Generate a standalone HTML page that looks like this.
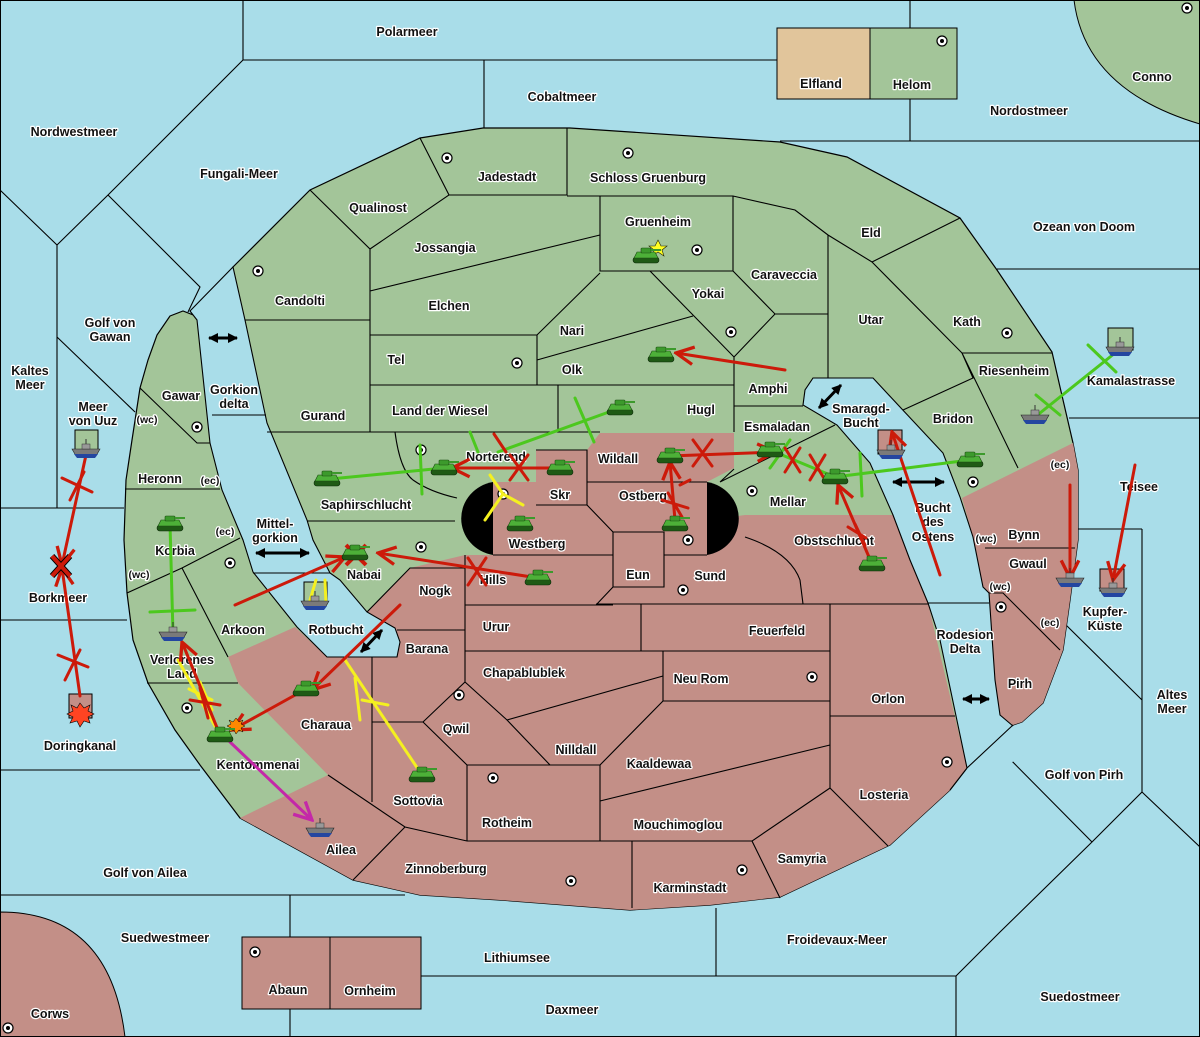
<!DOCTYPE html>
<html><head><meta charset="utf-8"><style>
html,body{margin:0;padding:0;background:#a9dde9;}
svg{display:block}
text{font-family:"Liberation Sans",sans-serif;font-weight:bold;font-size:12.5px;fill:#111;stroke:#fff;stroke-width:2.5px;paint-order:stroke;stroke-linejoin:round;text-anchor:middle}
.b{fill:none;stroke:#000;stroke-width:1.1}
.s{font-size:10.5px}
</style></head><body>
<svg width="1200" height="1037" viewBox="0 0 1200 1037" xmlns="http://www.w3.org/2000/svg">
<defs>
<marker id="ar" viewBox="0 0 20 20" refX="18" refY="10" markerWidth="22" markerHeight="22" markerUnits="userSpaceOnUse" orient="auto"><path d="M2 2 L18 10 L2 18" fill="none" stroke="#cc1a0a" stroke-width="3"/></marker>
<marker id="am" viewBox="0 0 20 20" refX="18" refY="10" markerWidth="22" markerHeight="22" markerUnits="userSpaceOnUse" orient="auto"><path d="M2 2 L18 10 L2 18" fill="none" stroke="#c428a8" stroke-width="3"/></marker>
<marker id="ab" viewBox="0 0 10 10" refX="9" refY="5" markerWidth="10" markerHeight="10" markerUnits="userSpaceOnUse" orient="auto-start-reverse"><path d="M0 0 L10 5 L0 10Z" fill="#000"/></marker>
<g id="tank"><rect x="-13" y="1" width="26" height="6" rx="3" fill="#1f5a15" stroke="#0c2a08" stroke-width=".6"/><path d="M-12 2 L12 2 L9 -4 L-9 -4Z" fill="#4db038" stroke="#1a4a10" stroke-width=".6"/><rect x="-5" y="-8" width="10" height="5" rx="1" fill="#3c9a2c" stroke="#1a4a10" stroke-width=".6"/><rect x="5" y="-7" width="10" height="2" fill="#3c9a2c"/></g>
<g id="ship"><path d="M-14 -2 L14 -2 L10 5 L-10 5Z" fill="#7a7a7a" stroke="#222" stroke-width=".6"/><path d="M-12 3 L12 3 L9 7 L-9 7Z" fill="#2446a0"/><rect x="-4" y="-7" width="8" height="5" fill="#999" stroke="#333" stroke-width=".5"/><line x1="0" y1="-12" x2="0" y2="-7" stroke="#333"/></g>
<g id="sc"><circle r="5" fill="#fff" stroke="#000" stroke-width="1.2"/><circle r="2" fill="#000"/></g>
</defs>

<rect width="1200" height="1037" fill="#a9dde9"/>
<path d="M1074 0 Q1085 90 1200 124 L1200 0Z" fill="#a3c599" stroke="#000"/>
<path d="M0 912 Q110 912 125 1037 L0 1037Z" fill="#c38f87" stroke="#000"/>
<rect x="777" y="28" width="93" height="71" fill="#e1c59b" stroke="#000"/>
<rect x="870" y="28" width="87" height="71" fill="#a3c599" stroke="#000"/>
<rect x="242" y="937" width="88" height="72" fill="#c38f87" stroke="#000"/>
<rect x="330" y="937" width="91" height="72" fill="#c38f87" stroke="#000"/>

<g class="b">
<path d="M243 0 V60 H777 M484 60 V128 M910 0 V28 M910 99 V141 M780 141 H1200"/>
<path d="M243 60 L108 195 L57 245 L0 190 M108 195 L200 287 L188 312 M57 245 V508 M57 337 L135 412 M0 508 H124 M0 620 H127 M0 770 H200 M0 895 H405 M290 895 V937 M290 1009 V1037"/>
<path d="M421 976 H956 V1037 M716 908 V976 M956 976 L1000 932 L1092 842 L1142 792 V529 M1142 792 L1200 847 M993 742 L1092 842 M1065 624 L1142 700"/>
<path d="M997 269 H1200 M1069 418 H1200 M1078 529 H1142"/>
</g>

<path d="M170 316 L183 311 L196 316 L233 267 L310 190 L420 138 L483 128 L570 128 L780 142 L847 157 L960 218 L997 270 L1052 352 L1060 387 L1073 443 L1078 470 L1078 540 L1070 600 L1063 650 L1043 703 L1022 722 L1013 725 L967 768 L950 790 L890 845 L780 897 L710 905 L630 910 L500 900 L420 895 L353 880 L240 818 L200 765 L175 730 L148 683 L133 640 L127 593 L124 540 L126 480 L132 440 L140 388 L148 360 L157 335Z" fill="#a3c599" stroke="#000" stroke-width="1.2"/>
<path d="M240 818 L328 775 L238 683 L228 657 L295 627 L327 657 L397 657 L400 640 L395 628 L367 612 L410 568 L465 555 L493 555 L493 482 L536 482 L536 450 L587 450 L600 433 L734 433 L734 468 L707 482 L707 520 L745 515 L893 515 L910 560 L928 603 L967 768 L950 790 L890 845 L780 897 L710 905 L630 910 L500 900 L420 895 L353 880Z" fill="#c38f87"/>
<path d="M962 498 L1073 443 L1078 470 L1078 540 L1070 600 L1063 650 L1043 703 L1022 722 L1013 725 L1000 715 L995 680 L989 593 L983 587 L973 537Z" fill="#c38f87"/>
<path d="M190 311 L233 267 L245 320 L267 423 L307 520 L313 540 L330 573 L340 580 L367 612 L395 628 L400 642 L397 657 L327 657 L297 627 L253 572 L243 540 L222 490 L210 443 L197 320Z" fill="#a9dde9" stroke="#000" stroke-width="1.1"/>
<path d="M803 405 L805 390 L813 378 L873 378 L900 407 L943 453 L960 497 L973 537 L983 587 L989 593 L995 680 L1000 715 L1013 726 L1040 745 L967 790 L967 768 L940 640 L928 603 L910 560 L893 515 L870 463 L837 425Z" fill="#a9dde9"/>
<path d="M967 768 L940 640 L928 603 L910 560 L893 515 L870 463 L837 425 L803 405 L805 390 L813 378 L873 378 L900 407 L943 453 L960 497 L973 537 L983 587 L989 593 L995 680 L1000 715 L1013 726" class="b"/>
<path d="M212 415 H266 M253 573 H330 M928 603 H989 M1013 725 L967 768 L950 790" class="b"/>
<path d="M493 482 A38 37 0 0 0 493 555Z" fill="#000"/>
<path d="M707 482 A38 37 0 0 1 707 555Z" fill="#000"/>

<g class="b">
<path d="M310 190 L370 249 L449 195 L420 138 M449 195 H567 V128 M370 249 V432 M370 291 L600 235 M245 320 H370 M370 335 H537 L600 273 M537 335 V385 M537 360 L693 316 M370 385 H734 M558 385 V432 M267 432 H600 M395 432 Q400 470 413 480 Q430 492 457 498 M307 521 H455"/>
<path d="M140 388 L197 443 H210 M125 489 H220 M127 593 L182 568 L240 538 M182 568 L228 657 M147 683 H238"/>
<path d="M367 612 L410 568 L465 568 M465 555 V682 M465 605 H613 M397 630 H465 M465 651 H641 M372 657 V802 M372 722 H423 L465 682 L507 720 L550 765 M423 722 L467 765 M467 765 H600 V841 M467 765 V841 M600 841 H752 M467 841 H600 M328 775 L405 827 L467 841 M405 827 L353 880 M507 720 L663 676"/>
<path d="M536 450 H587 V505 H536 M587 505 L613 532 M613 532 H664 V587 H613 Z M493 555 H613 M613 587 L596 605 M587 482 H707 M664 555 H707 M745 537 Q790 552 800 580 L803 604 M596 604 H928 M641 604 V651 M641 651 H830 M663 651 V701 H830 M830 604 V788 M830 716 H955 M663 701 L600 765 M600 801 L830 745 M830 788 L752 841 L780 898 M830 788 L888 846 M632 841 V908"/>
<path d="M567 196 H733 L795 210 L828 235 L872 262 L960 218 M600 196 V271 H733 V196 M733 271 L775 314 H828 M828 235 V378 M650 271 L734 357 L775 314 M734 357 V432 M734 406 H803 M734 469 L720 482 M720 482 L835 425 M872 262 L962 353 H1052 M962 353 L973 378 L903 410 M962 353 L1018 468 M985 548 H1075 M989 593 H1003 L1060 650"/>
</g>

<text x="407" y="36">Polarmeer</text><text x="562" y="101">Cobaltmeer</text><text x="821" y="88">Elfland</text><text x="912" y="89">Helom</text><text x="1152" y="81">Conno</text><text x="1029" y="115">Nordostmeer</text><text x="74" y="136">Nordwestmeer</text><text x="239" y="178">Fungali-Meer</text><text x="507" y="181">Jadestadt</text><text x="648" y="182">Schloss Gruenburg</text><text x="378" y="212">Qualinost</text><text x="658" y="226">Gruenheim</text><text x="871" y="237">Eld</text><text x="1084" y="231">Ozean von Doom</text><text x="445" y="252">Jossangia</text><text x="784" y="279">Caraveccia</text><text x="300" y="305">Candolti</text><text x="449" y="310">Elchen</text><text x="708" y="298">Yokai</text><text x="110" y="327">Golf von</text><text x="110" y="341">Gawan</text><text x="871" y="324">Utar</text><text x="967" y="326">Kath</text><text x="572" y="335">Nari</text><text x="396" y="364">Tel</text><text x="572" y="374">Olk</text><text x="30" y="375">Kaltes</text><text x="30" y="389">Meer</text><text x="1014" y="375">Riesenheim</text><text x="768" y="393">Amphi</text><text x="1131" y="385">Kamalastrasse</text><text x="181" y="400">Gawar</text><text x="234" y="394">Gorkion</text><text x="234" y="408">delta</text><text x="861" y="413">Smaragd-</text><text x="861" y="427">Bucht</text><text x="93" y="411">Meer</text><text x="93" y="425">von Uuz</text><text class="s" x="147" y="423">(wc)</text><text x="440" y="415">Land der Wiesel</text><text x="701" y="414">Hugl</text><text x="323" y="420">Gurand</text><text x="953" y="423">Bridon</text><text x="777" y="431">Esmaladan</text><text x="496" y="461">Norterend</text><text x="618" y="463">Wildall</text><text x="160" y="483">Heronn</text><text class="s" x="210" y="484">(ec)</text><text x="1139" y="491">Teisee</text><text class="s" x="1060" y="468">(ec)</text><text x="560" y="499">Skr</text><text x="643" y="500">Ostberg</text><text x="788" y="506">Mellar</text><text x="366" y="509">Saphirschlucht</text><text x="933" y="512">Bucht</text><text x="933" y="526">des</text><text x="933" y="541">Ostens</text><text x="275" y="528">Mittel-</text><text x="275" y="542">gorkion</text><text class="s" x="225" y="535">(ec)</text><text x="1024" y="539">Bynn</text><text class="s" x="986" y="542">(wc)</text><text x="537" y="548">Westberg</text><text x="175" y="555">Korbia</text><text x="834" y="545">Obstschlucht</text><text x="1028" y="568">Gwaul</text><text class="s" x="139" y="578">(wc)</text><text x="364" y="579">Nabai</text><text x="493" y="584">Hills</text><text x="638" y="579">Eun</text><text x="710" y="580">Sund</text><text class="s" x="1000" y="590">(wc)</text><text x="435" y="595">Nogk</text><text x="58" y="602">Borkmeer</text><text x="1105" y="616">Kupfer-</text><text x="1105" y="630">Küste</text><text x="496" y="631">Urur</text><text x="777" y="635">Feuerfeld</text><text x="243" y="634">Arkoon</text><text x="336" y="634">Rotbucht</text><text x="965" y="639">Rodesion</text><text x="965" y="653">Delta</text><text class="s" x="1050" y="626">(ec)</text><text x="427" y="653">Barana</text><text x="182" y="664">Verlorenes</text><text x="182" y="678">Land</text><text x="524" y="677">Chapablublek</text><text x="701" y="683">Neu Rom</text><text x="1020" y="688">Pirh</text><text x="888" y="703">Orlon</text><text x="1172" y="699">Altes</text><text x="1172" y="713">Meer</text><text x="326" y="729">Charaua</text><text x="456" y="733">Qwil</text><text x="80" y="750">Doringkanal</text><text x="576" y="754">Nilldall</text><text x="659" y="768">Kaaldewaa</text><text x="258" y="769">Kentommenai</text><text x="1084" y="779">Golf von Pirh</text><text x="884" y="799">Losteria</text><text x="418" y="805">Sottovia</text><text x="507" y="827">Rotheim</text><text x="678" y="829">Mouchimoglou</text><text x="341" y="854">Ailea</text><text x="802" y="863">Samyria</text><text x="446" y="873">Zinnoberburg</text><text x="145" y="877">Golf von Ailea</text><text x="690" y="892">Karminstadt</text><text x="165" y="942">Suedwestmeer</text><text x="837" y="944">Froidevaux-Meer</text><text x="517" y="962">Lithiumsee</text><text x="288" y="994">Abaun</text><text x="370" y="995">Ornheim</text><text x="1080" y="1001">Suedostmeer</text><text x="572" y="1014">Daxmeer</text><text x="50" y="1018">Corws</text>

<g>
<use href="#sc" x="447" y="158"/><use href="#sc" x="628" y="153"/><use href="#sc" x="258" y="271"/><use href="#sc" x="697" y="250"/><use href="#sc" x="517" y="363"/><use href="#sc" x="731" y="332"/><use href="#sc" x="197" y="427"/><use href="#sc" x="1007" y="333"/><use href="#sc" x="421" y="450"/><use href="#sc" x="503" y="494"/><use href="#sc" x="752" y="491"/><use href="#sc" x="973" y="482"/><use href="#sc" x="230" y="563"/><use href="#sc" x="421" y="547"/><use href="#sc" x="688" y="540"/><use href="#sc" x="683" y="590"/><use href="#sc" x="187" y="708"/><use href="#sc" x="459" y="695"/><use href="#sc" x="812" y="677"/><use href="#sc" x="947" y="762"/><use href="#sc" x="493" y="778"/><use href="#sc" x="571" y="881"/><use href="#sc" x="742" y="870"/><use href="#sc" x="1001" y="607"/><use href="#sc" x="942" y="41"/><use href="#sc" x="1187" y="8"/><use href="#sc" x="255" y="952"/><use href="#sc" x="8" y="1028"/>
</g>

<rect x="75" y="430" width="23" height="22" fill="#a3c599" stroke="#000"/>
<rect x="69" y="694" width="23" height="24" fill="#c38f87" stroke="#000"/>
<rect x="1108" y="328" width="25" height="22" fill="#a3c599" stroke="#000"/>
<rect x="1100" y="569" width="24" height="22" fill="#c38f87" stroke="#000"/>
<rect x="878" y="430" width="24" height="24" fill="#c38f87" stroke="#000"/>
<rect x="304" y="582" width="23" height="22" fill="#a3c599" stroke="#000"/>

<g stroke="#000" stroke-width="3" marker-start="url(#ab)" marker-end="url(#ab)">
<line x1="209" y1="338" x2="237" y2="338"/><line x1="256" y1="553" x2="309" y2="553"/><line x1="361" y1="652" x2="382" y2="630"/><line x1="819" y1="408" x2="841" y2="385"/><line x1="893" y1="482" x2="944" y2="482"/><line x1="963" y1="699" x2="989" y2="699"/>
</g>

<g fill="none" stroke-width="3" stroke-linecap="round">
<g stroke="#4cc81e">
<path d="M330 479 L444 468 M420 445 L422 494 M620 408 L498 452 M575 398 L594 442 M470 432 L478 452 M1120 349 L1035 417 M1088 345 L1116 372 M1036 395 L1060 415 M770 450 L835 477 L970 460 M860 453 L862 496 M770 468 L790 440 M170 524 L173 634 M150 612 L195 610"/>
</g>
<g stroke="#f4f020">
<path d="M422 775 L345 660 M355 678 L360 720 M362 700 L388 705 M220 735 L178 660 M200 682 L212 710 M189 689 L212 700 M503 494 L490 475 M503 494 L485 520 M503 494 L523 505 M316 580 L310 600 M325 580 L326 604"/>
</g>
<g stroke="#cc1a0a">
<path d="M785 370 L676 353" marker-end="url(#ar)"/>
<path d="M560 468 L452 468" marker-end="url(#ar)"/>
<path d="M510 455 L528 480 M528 455 L510 480 M494 434 L506 452"/>
<path d="M670 456 L775 452" marker-end="url(#ar)"/>
<path d="M693 440 L712 466 M712 440 L693 466 M785 448 L800 472 M800 448 L785 472 M810 455 L825 480 M825 455 L810 480"/>
<path d="M675 520 L670 462" marker-end="url(#ar)"/>
<path d="M662 500 L688 508 M668 493 L682 517 M680 485 L690 480"/>
<path d="M538 578 L378 553" marker-end="url(#ar)"/>
<path d="M468 558 L486 585 M486 558 L468 585"/>
<path d="M235 605 L345 557" marker-end="url(#ar)"/>
<path d="M400 605 L312 690" marker-end="url(#ar)"/>
<path d="M306 689 L232 730" marker-end="url(#ar)"/>
<path d="M220 735 L182 642" marker-end="url(#ar)"/>
<path d="M190 700 L220 705 M200 688 L208 718"/>
<path d="M872 564 L838 485" marker-end="url(#ar)"/>
<path d="M848 527 L866 538 M855 524 L865 545"/>
<path d="M940 575 L892 432" marker-end="url(#ar)"/>
<path d="M1070 485 L1070 578" marker-end="url(#ar)"/>
<path d="M1135 465 L1113 580" marker-end="url(#ar)"/>
<path d="M86 455 L62 565" marker-end="url(#ar)"/>
<path d="M80 696 L62 568" marker-end="url(#ar)"/>
<path d="M62 478 L92 492 M70 500 L84 472 M58 655 L88 667 M65 680 L80 650"/>
</g>
<path d="M230 742 L312 820" stroke="#c428a8" stroke-width="3" fill="none" marker-end="url(#am)"/>
</g>
<path d="M52 556 L70 576 M70 556 L52 576" stroke="#000" stroke-width="6"/>
<path d="M52 556 L70 576 M70 556 L52 576" stroke="#cc1a0a" stroke-width="4"/>
<path d="M346 545 L366 565 M366 545 L346 565" stroke="#cc1a0a" stroke-width="4"/>
<polygon points="80,703 84,708 90,705 88,711 94,714 88,717 90,723 84,721 80,727 77,721 70,723 73,717 67,714 73,711 71,705 77,708" fill="#f42" stroke="#000" stroke-width=".6"/>
<polygon points="236,718 239,722 243,720 241,724 245,726 241,728 243,732 239,730 236,734 234,730 229,732 231,728 227,726 231,724 229,720 233,722" fill="#f80" stroke="#000" stroke-width=".5"/>
<polygon points="658,240 661,246 667,246 662,250 664,256 658,252 652,256 654,250 649,246 655,246" fill="#ff2" stroke="#220" stroke-width=".6"/>

<g>
<use href="#tank" x="646" y="256"/><use href="#tank" x="661" y="355"/><use href="#tank" x="620" y="408"/><use href="#tank" x="327" y="479"/><use href="#tank" x="444" y="468"/><use href="#tank" x="560" y="468"/><use href="#tank" x="670" y="456"/><use href="#tank" x="520" y="524"/><use href="#tank" x="675" y="524"/><use href="#tank" x="538" y="578"/><use href="#tank" x="355" y="553"/><use href="#tank" x="170" y="524"/><use href="#tank" x="306" y="689"/><use href="#tank" x="220" y="735"/><use href="#tank" x="422" y="775"/><use href="#tank" x="770" y="450"/><use href="#tank" x="835" y="477"/><use href="#tank" x="970" y="460"/><use href="#tank" x="872" y="564"/>
<use href="#ship" x="86" y="451"/><use href="#ship" x="1120" y="349"/><use href="#ship" x="1035" y="417"/><use href="#ship" x="891" y="452"/><use href="#ship" x="315" y="603"/><use href="#ship" x="173" y="634"/><use href="#ship" x="1070" y="580"/><use href="#ship" x="1113" y="590"/><use href="#ship" x="320" y="830"/>
</g>
<rect x="0.5" y="0.5" width="1199" height="1036" fill="none" stroke="#000"/>
</svg>
</body></html>
